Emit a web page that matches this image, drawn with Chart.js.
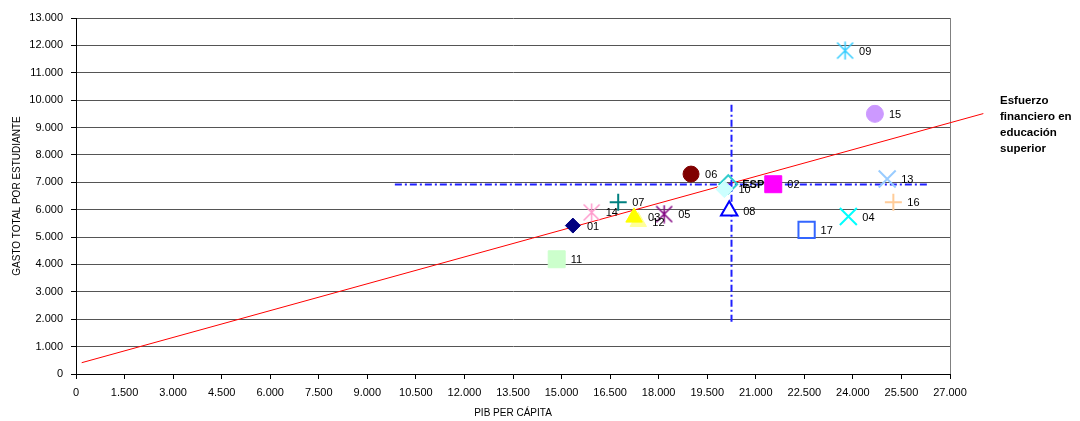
<!DOCTYPE html>
<html lang="es">
<head>
<meta charset="utf-8">
<title>Gasto por estudiante y PIB per cápita</title>
<script src="https://cdn.jsdelivr.net/npm/chart.js@4.4.1/dist/chart.umd.min.js"></script>
<style>
  body { margin: 0; background: #fff; }
  .contenedor { position: relative; width: 1080px; height: 421px; }
  .nota {
    position: absolute; left: 1000px; top: 92px;
    font: bold 11.5px "Liberation Sans", Arial, sans-serif;
    line-height: 16px; color: #000;
  }
</style>
</head>
<body>
<div class="contenedor">
  <canvas id="grafico" width="1080" height="421"></canvas>
  <div class="nota">Esfuerzo<br>financiero en<br>educación<br>superior</div>
</div>
<script>
// datos
const codigos = ['01', '02', '03', '04', '05', '06', '07', '08', '09', '10', '11', '12', '13', '14', '15', '16', '17', 'ESP'];
const pibPerCapita = [15350, 21540, 17240, 23860, 18170, 19000, 16750, 20180, 23760, 20030, 14850, 17370, 25060, 15930, 24680, 25250, 22570, 20150];
const gastoPorEstudiante = [5420, 6930, 5720, 5750, 5840, 7300, 6270, 5960, 11810, 6750, 4190, 5560, 7120, 5900, 9500, 6270, 5260, 6930];

// recta de esfuerzo financiero (extremos)
const rectaX = [176, 28030];
const rectaY = [413, 9510];

// líneas de referencia de España
const refHorizX = [9850, 26320];
const refHorizY = [6920, 6920];
const refVertX = [20250, 20250];
const refVertY = [1910, 9910];

const fuente = '"Liberation Sans", Arial, sans-serif';

// asterisco tipo Excel: aspa + trazo vertical
function asterisco(color) {
    const c = document.createElement('canvas');
    c.width = 19; c.height = 19;
    const g = c.getContext('2d');
    g.strokeStyle = color;
    g.lineWidth = 1.5;
    g.beginPath();
    g.moveTo(1.5, 1.5); g.lineTo(17.5, 17.5);
    g.moveTo(17.5, 1.5); g.lineTo(1.5, 17.5);
    g.moveTo(9.5, 0.5); g.lineTo(9.5, 18.5);
    g.stroke();
    return c;
}

// estilo de cada marcador, en el mismo orden que codigos
const estilos = [
    { forma: 'rectRot', radio: 7.5, relleno: '#000080', borde: '#000080' },
    { forma: 'rect', radio: 12, relleno: '#FF00FF', borde: '#FF00FF' },
    { forma: 'triangle', radio: 9.5, relleno: '#FFFF00', borde: '#FFFF00' },
    { forma: 'crossRot', radio: 12, relleno: '#00FFFF', borde: '#00FFFF', grosor: 2 },
    { forma: asterisco('#800080'), radio: 9 },
    { forma: 'circle', radio: 8, relleno: '#800000', borde: '#800000' },
    { forma: 'cross', radio: 8.5, relleno: '#008080', borde: '#008080', grosor: 2 },
    { forma: 'triangle', radio: 9.5, relleno: '#FFFFFF', borde: '#0000FF', grosor: 2 },
    { forma: asterisco('#33CCFF'), radio: 9 },
    { forma: 'rectRot', radio: 8.5, relleno: '#CCFFFF', borde: '#CCFFFF' },
    { forma: 'rect', radio: 12, relleno: '#CCFFCC', borde: '#CCFFCC' },
    { forma: 'triangle', radio: 9.5, relleno: '#FFFF99', borde: '#FFFF99' },
    { forma: 'crossRot', radio: 12, relleno: '#99CCFF', borde: '#99CCFF', grosor: 2 },
    { forma: asterisco('#FF99CC'), radio: 9 },
    { forma: 'circle', radio: 8.5, relleno: '#CC99FF', borde: '#CC99FF' },
    { forma: 'cross', radio: 8.5, relleno: '#FFCC99', borde: '#FFCC99', grosor: 2 },
    { forma: 'rect', radio: 11.5, relleno: '#FFFFFF', borde: '#3366FF', grosor: 2 },
    { forma: 'rectRot', radio: 9, relleno: 'rgba(0,0,0,0)', borde: '#33CCCC', grosor: 2 }
];

function formatoMiles(v) {
    return String(v).replace(/\B(?=(\d{3})+(?!\d))/g, '.');
}

// un dataset por país para poder dar a cada uno su marcador
const datasets = codigos.map(function (cod, i) {
    const e = estilos[i];
    return {
        label: cod,
        etiqueta: true,
        data: [{ x: pibPerCapita[i], y: gastoPorEstudiante[i] }],
        pointStyle: e.forma,
        pointRadius: e.radio,
        backgroundColor: e.relleno || '#000',
        borderColor: e.borde || '#000',
        borderWidth: e.grosor || 1,
        showLine: false
    };
});

datasets.push({
    label: 'ref-h',
    data: refHorizX.map((x, i) => ({ x: x, y: refHorizY[i] })),
    showLine: true, pointRadius: 0,
    borderColor: '#2020FF', borderWidth: 2, borderDash: [7, 3, 2, 3]
});
datasets.push({
    label: 'ref-v',
    data: refVertX.map((x, i) => ({ x: x, y: refVertY[i] })),
    showLine: true, pointRadius: 0,
    borderColor: '#2020FF', borderWidth: 2, borderDash: [7, 3, 2, 3]
});
datasets.push({
    label: 'esfuerzo',
    data: rectaX.map((x, i) => ({ x: x, y: rectaY[i] })),
    showLine: true, pointRadius: 0, clip: false,
    borderColor: '#FF0000', borderWidth: 1
});

// etiquetas de los puntos a la derecha del marcador
const etiquetasPuntos = {
    id: 'etiquetasPuntos',
    afterDatasetsDraw(chart) {
        const ctx = chart.ctx;
        ctx.save();
        ctx.fillStyle = '#000';
        ctx.textBaseline = 'middle';
        chart.data.datasets.forEach(function (ds, i) {
            if (!ds.etiqueta) return;
            const p = chart.getDatasetMeta(i).data[0];
            ctx.font = (ds.label === 'ESP' ? 'bold ' : '') + '11px ' + fuente;
            ctx.fillText(ds.label, p.x + 14, p.y + 1);
        });
        ctx.restore();
    }
};

new Chart(document.getElementById('grafico'), {
    type: 'scatter',
    data: { datasets: datasets },
    options: {
        responsive: false,
        animation: false,
        layout: { padding: { top: 18, right: 130, left: 0, bottom: 0 } },
        plugins: {
            legend: { display: false },
            tooltip: { enabled: false }
        },
        scales: {
            x: {
                type: 'linear',
                min: 0, max: 27000,
                ticks: {
                    stepSize: 1500, autoSkip: false, maxRotation: 0, padding: 7,
                    color: '#000', font: { family: fuente, size: 11 },
                    callback: v => formatoMiles(v)
                },
                grid: {
                    color: c => (c.tick && c.tick.value === 27000) ? '#808080' : 'rgba(0,0,0,0)',
                    tickColor: '#000', tickLength: 5
                },
                border: { color: '#000' },
                title: {
                    display: true, text: 'PIB PER CÁPITA', color: '#000',
                    font: { family: fuente, size: 10 }, padding: { top: 0, bottom: 2 }
                },
                afterFit: s => { s.height = 47; }
            },
            y: {
                min: 0, max: 13000,
                ticks: {
                    stepSize: 1000, padding: 8,
                    color: '#000', font: { family: fuente, size: 11 },
                    callback: v => formatoMiles(v)
                },
                grid: { color: '#555', tickColor: '#000', tickLength: 5 },
                border: { color: '#000' },
                title: {
                    display: true, text: 'GASTO TOTAL POR ESTUDIANTE', color: '#000',
                    font: { family: fuente, size: 10 }, padding: { top: 11, bottom: 0 }
                },
                afterFit: s => { s.width = 76; }
            }
        }
    },
    plugins: [etiquetasPuntos]
});
</script>
</body>
</html>
